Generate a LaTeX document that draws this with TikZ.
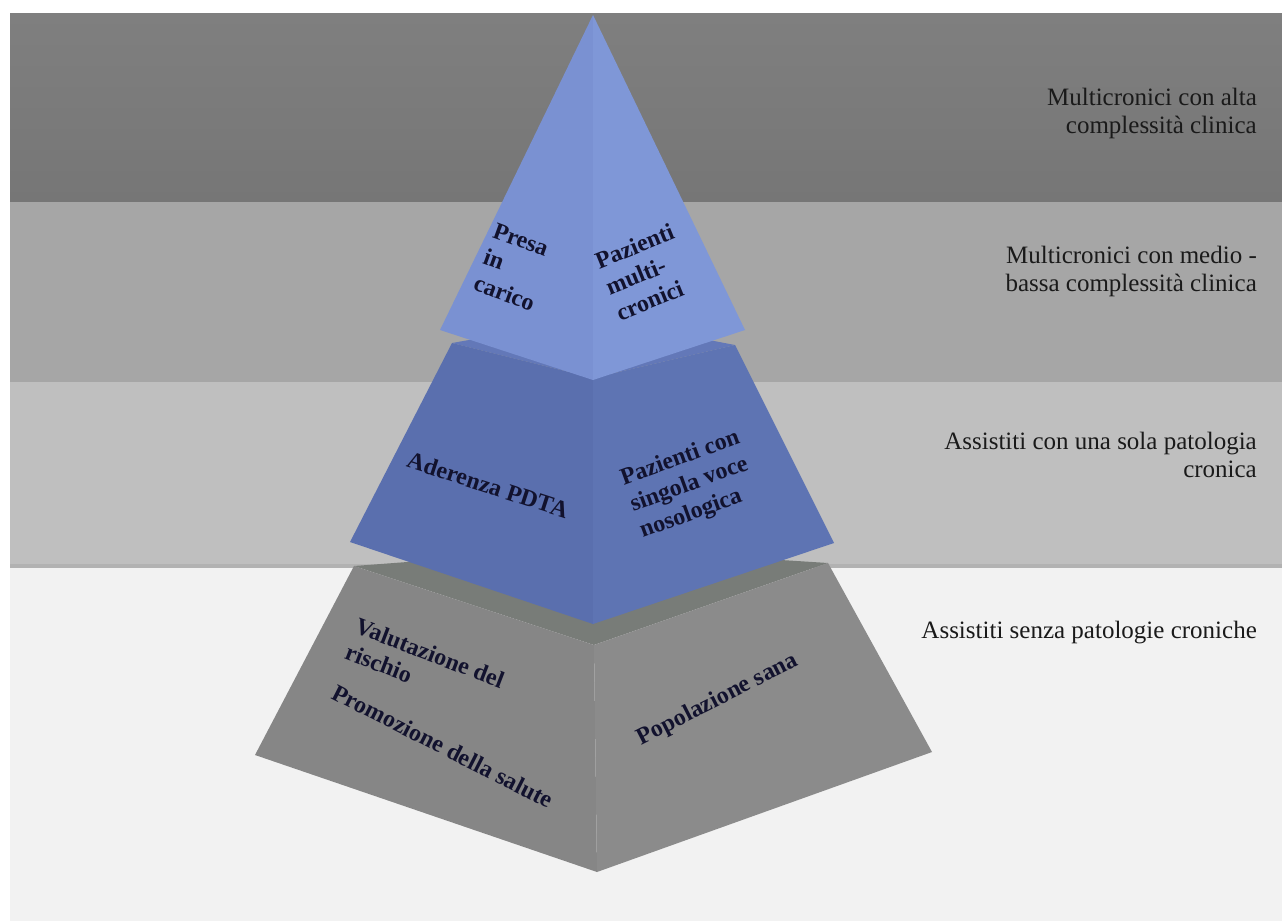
\documentclass[tikz,border=0pt]{standalone}
\usepackage{fontspec}
\setmainfont{Liberation Serif}
\definecolor{bandA}{HTML}{7F7F7F}
\definecolor{bandAd}{HTML}{767676}
\definecolor{bandB}{HTML}{A6A6A6}
\definecolor{bandC}{HTML}{BFBFBF}
\definecolor{bandD}{HTML}{F2F2F2}
\definecolor{topL}{HTML}{7A91D2}
\definecolor{topR}{HTML}{7F97D7}
\definecolor{midT}{HTML}{6378B8}
\definecolor{midL}{HTML}{5A6FAE}
\definecolor{midR}{HTML}{5E74B3}
\definecolor{botT}{HTML}{787C78}
\definecolor{botL}{HTML}{868686}
\definecolor{botR}{HTML}{8B8B8B}
\definecolor{pyrtext}{HTML}{12122E}
\definecolor{lbltext}{HTML}{1A1A1A}
\begin{document}
\begin{tikzpicture}[x=1pt,y=-1pt,
  sidelabel/.style={font=\fontsize{25}{28}\selectfont, align=right, anchor=east, text=lbltext, inner sep=0pt},
  pyrlabel/.style={font=\bfseries\fontsize{24}{28}\selectfont, align=left, text=pyrtext, inner sep=0pt},
  face/.style={draw=none}]
\useasboundingbox (0,0) rectangle (1282,921);
\fill[white] (0,0) rectangle (1282,921);
% bands
\shade[top color=bandA, bottom color=bandAd] (10,13) rectangle (1282,202);
\fill[bandB] (10,202) rectangle (1282,382);
\fill[bandC] (10,382) rectangle (1282,567);
\fill[black!30] (10,564) rectangle (1282,568);
\fill[bandD] (10,568) rectangle (1282,921);
% coordinates
\coordinate (apex) at (593,15);
\coordinate (tl) at (440,330);
\coordinate (tf) at (593,380);
\coordinate (tr) at (745,330);
\coordinate (ml) at (452,343);
\coordinate (mb) at (593,318);
\coordinate (mr) at (735,345);
\coordinate (mft) at (593,378);
\coordinate (mbl) at (350,542);
\coordinate (mbf) at (593,624);
\coordinate (mbr) at (834,543);
\coordinate (bl) at (354,566);
\coordinate (bb) at (594,548);
\coordinate (br) at (828,563);
\coordinate (bft) at (594,645);
\coordinate (bbl) at (255,755);
\coordinate (bbf) at (597,872);
\coordinate (bbr) at (932,752);
% bottom frustum
\fill[botT] (bl) -- (bb) -- (br) -- (bft) -- cycle;
\fill[botL] (bl) -- (bbl) -- (bbf) -- (bft) -- cycle;
\fill[botR] (bft) -- (bbf) -- (bbr) -- (br) -- cycle;
% middle frustum
\fill[midT] (ml) -- (mb) -- (mr) -- (mft) -- cycle;
\fill[midL] (ml) -- (mbl) -- (mbf) -- (mft) -- cycle;
\fill[midR] (mft) -- (mbf) -- (mbr) -- (mr) -- cycle;
% top pyramid
\fill[topL] (apex) -- (tl) -- (tf) -- cycle;
\fill[topR] (apex) -- (tf) -- (tr) -- cycle;
% pyramid labels
\node[pyrlabel, rotate=-20] (presa) at (514,267) {Presa\\in\\carico};
\node[pyrlabel, rotate=22] (pazm) at (645,272) {Pazienti\\multi-\\cronici};
\node[pyrlabel, rotate=-18] (aderenza) at (488,485) {Aderenza PDTA};
\node[pyrlabel, rotate=20] (pazs) at (690,485) {Pazienti con\\singola voce\\nosologica};
\node[pyrlabel, rotate=-21] (valut) at (425,666) {Valutazione del\\rischio};
\node[pyrlabel, rotate=-27] (promo) at (443,746) {Promozione della salute};
\node[pyrlabel, rotate=27] (popol) at (718,700) {Popolazione sana};
% side labels
\node[sidelabel] (l1) at (1257,113) {Multicronici con alta\\complessità clinica};
\node[sidelabel] (l2) at (1257,271) {Multicronici con medio -\\bassa complessità clinica};
\node[sidelabel] (l3) at (1257,455) {Assistiti con una sola patologia\\cronica};
\node[sidelabel] (l4) at (1257,633) {Assistiti senza patologie croniche};
\end{tikzpicture}
\end{document}
